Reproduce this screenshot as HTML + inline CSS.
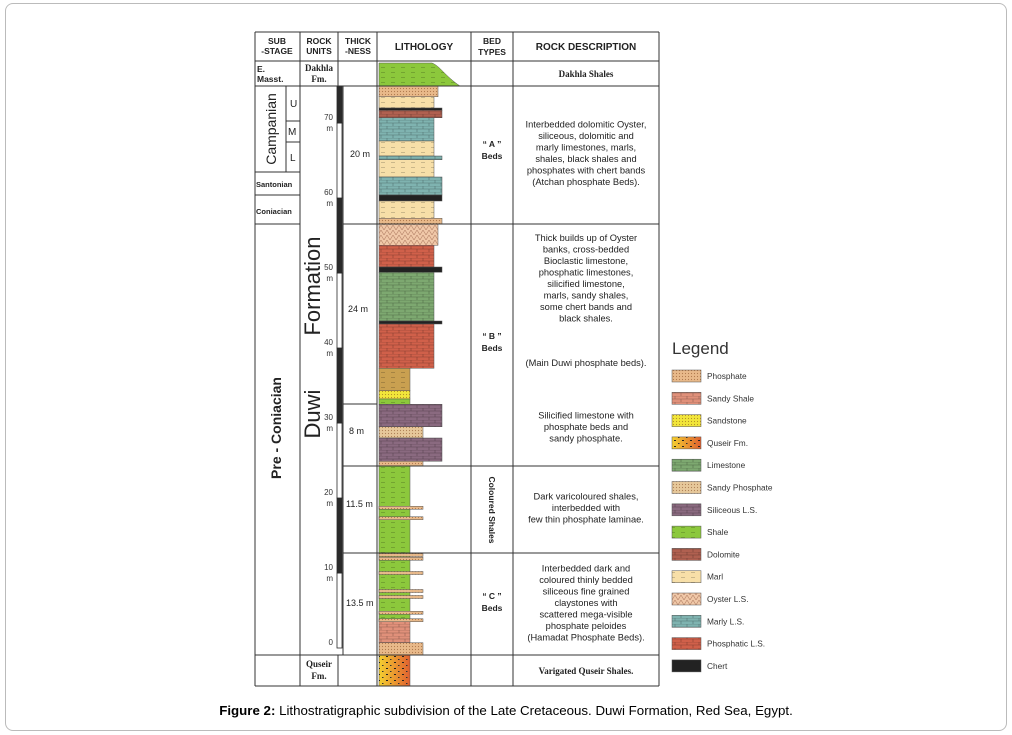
<!DOCTYPE html>
<html><head><meta charset="utf-8"><style>
body{margin:0;width:1012px;height:735px;background:#fff;overflow:hidden;font-family:"Liberation Sans",sans-serif}
#frame{position:absolute;left:5px;top:3px;width:1000px;height:726px;border:1px solid #bbb;border-radius:8px}
#cap{position:absolute;left:0;width:1012px;top:703px;text-align:center;font-size:13.3px;color:#000}
</style></head><body>
<div id="frame"></div>
<svg id="svg" width="1012" height="735" style="position:absolute;left:0;top:0">
<defs>
<pattern id="p-brick" width="12" height="6" patternUnits="userSpaceOnUse"><path d="M0 0H12M0 3H12M3 0V3M9 3V6" stroke="rgba(0,0,0,0.35)" stroke-width="0.6"/></pattern>
<pattern id="p-dash" width="10" height="5" patternUnits="userSpaceOnUse"><path d="M1 2.5H5" stroke="rgba(0,0,0,0.3)" stroke-width="0.6"/></pattern>
<pattern id="p-dot" width="3" height="3" patternUnits="userSpaceOnUse"><circle cx="1.5" cy="1.5" r="0.6" fill="rgba(120,60,20,0.5)"/></pattern>
<pattern id="p-oys" width="6" height="5" patternUnits="userSpaceOnUse"><path d="M0 5L3 0L6 5" fill="none" stroke="rgba(120,60,40,0.5)" stroke-width="0.6"/></pattern>
<pattern id="p-qus" width="8" height="6" patternUnits="userSpaceOnUse"><rect x="2" y="2" width="2" height="1" fill="#222"/><rect x="6" y="5" width="1.5" height="1" fill="#333"/></pattern>
<linearGradient id="g-qus" x1="0" x2="1"><stop offset="0" stop-color="#f4d030"/><stop offset="1" stop-color="#e06030"/></linearGradient>
</defs>
</svg>
<div id="cap"><b>Figure 2:</b> Lithostratigraphic subdivision of the Late Cretaceous. Duwi Formation, Red Sea, Egypt.</div>
<script>
// ---- data (depth in metres; width level = relative weathering profile) ----
const bedTop =    [74.9,73.5,72.0,71.7,70.7,67.6,65.6,65.1,62.8,60.4,59.6,57.3,56.5,53.7,50.8,50.1,43.6,43.2,37.3,34.3,33.2,32.5,29.5,28.0,24.9,24.3,3.6,0.7,-0.9];
const bedBottom = [73.5,72.0,71.7,70.7,67.6,65.6,65.1,62.8,60.4,59.6,57.3,56.5,53.7,50.8,50.1,43.6,43.2,37.3,34.3,33.2,32.5,29.5,28.0,24.9,24.3,3.6,0.7,-0.9,-5.1];
const bedType = ['phosphate','marl','chert','dolomite','marlyls','marl','marlyls','marl','marlyls','chert','marl','phosphate','oyster','phosls','chert','limestone','chert','phosls','brownshale','sandstone','shale','siliceous','sandyphos','siliceous','phosphate','shale','sandyshale','phosphate','quseir'];
const bedWidth = [4,3,5,5,3,3,5,3,5,5,3,5,4,3,5,3,5,3,1,1,1,5,2,5,2,1,1,2,1];
const laminae = [18.7,17.3,12.4,11.9,10.0,7.6,6.8,4.7,3.7];
const depthTicks = [0,10,20,30,40,50,60,70];
const legendNames = ['Phosphate','Sandy Shale','Sandstone','Quseir Fm.','Limestone','Sandy Phosphate','Siliceous L.S.','Shale','Dolomite','Marl','Oyster L.S.','Marly L.S.','Phosphatic L.S.','Chert'];
const legendTypes = ['phosphate','sandyshale','sandstone','quseir','limestone','sandyphos','siliceous','shale','dolomite','marl','oyster','marlyls','phosls','chert'];

const styles={phosphate:['#e8b98a','p-dot'],sandyshale:['#e0907a','p-brick'],sandstone:['#f2e63a','p-dot'],quseir:['url(#g-qus)','p-qus'],limestone:['#7da870','p-brick'],sandyphos:['#e6c89a','p-dot'],siliceous:['#8a6a80','p-brick'],shale:['#8cc83c','p-dash'],dolomite:['#b06050','p-brick'],marl:['#f7dfa8','p-dash'],oyster:['#f0c8a8','p-oys'],marlyls:['#7fb3b0','p-brick'],phosls:['#d0604a','p-brick'],chert:['#222',null],brownshale:['#c9a050','p-dash']};
const svg=document.getElementById('svg');const NS='http://www.w3.org/2000/svg';
const yOf=m=>648-m*7.5;
const xL=379, widthPx=[0,31,44,55,59,63];
const xR=l=>xL+widthPx[l];
function el(t,a,p){const e=document.createElementNS(NS,t);for(const k in a)e.setAttribute(k,a[k]);(p||svg).appendChild(e);return e;}
function fillRect(x,y,w,h,type,name){
  const g=el('g',{});
  
  
  const s=styles[type];
  el('rect',{x,y,width:w,height:h,fill:s[0],stroke:'#555','stroke-width':0.5},g);
  if(s[1])el('rect',{x,y,width:w,height:h,fill:'url(#'+s[1]+')'},g);
}
// Dakhla shale cap
const dk=el('path',{d:'M379 86 V63 H432 C440 66 445 76 460 86 Z',fill:'#8cc83c',stroke:'#555','stroke-width':0.5});

el('path',{d:'M379 86 V63 H432 C440 66 445 76 460 86 Z',fill:'url(#p-dash)'});
// beds
for(let i=0;i<bedTop.length;i++){
  const y1=yOf(bedTop[i]),y2=yOf(bedBottom[i]);
  fillRect(xL,y1,xR(bedWidth[i])-xL,y2-y1,bedType[i],'bed-'+bedType[i]);
}
for(let i=0;i<laminae.length;i++){
  fillRect(xL,yOf(laminae[i])-1.5,xR(2)-xL,3,'phosphate','phosphate-lamina');
}
// depth scale bar
for(let i=0;i<depthTicks.length;i++){
  const y1=yOf(depthTicks[i]), y2 = i<depthTicks.length-1?yOf(depthTicks[i+1]):86;
  const r=el('rect',{x:337,y:y2,width:5,height:y1-y2,fill:i%2?'#2a2a2a':'#fff',stroke:'#2a2a2a','stroke-width':0.8});
  
  const t=el('text',{x:333,y:y1-3,'font-size':8,'text-anchor':'end',fill:'#333'});t.textContent=depthTicks[i];
  
  if(depthTicks[i]>0){const u=el('text',{x:333,y:y1+8,'font-size':8,'text-anchor':'end',fill:'#333'});u.textContent='m';}
}
// grid lines
const L=(x1,y1,x2,y2,w)=>el('line',{x1,y1,x2,y2,stroke:'#333','stroke-width':w||1});
[[255,32,659,32],[255,61,659,61],[255,86,659,86],[255,655,659,655],[255,686,659,686],
 [255,32,255,686],[300,32,300,686],[338,32,338,86],[338,655,338,686],[377,32,377,686],[471,32,471,686],[513,32,513,686],[659,32,659,686],
 [255,224,300,224],[255,172,300,172],[255,195,300,195],[286,86,286,172],[286,121,300,121],[286,142,300,142],
 [343,86,343,655],[343,224,659,224],[343,404,377,404],[343,466,659,466],[343,553,659,553]].forEach(a=>L(...a));
// text helper
function T(x,y,s,txt,o={}){const t=el('text',Object.assign({x,y,'font-size':s,fill:'#222'},o));t.textContent=txt;return t;}
const hb={'font-weight':'bold','text-anchor':'middle','font-size':8.5};
T(277,44,8.5,'SUB',hb);T(277,54,8.5,'-STAGE',hb);
T(319,44,8.5,'ROCK',hb);T(319,54,8.5,'UNITS',hb);
T(358,44,8.5,'THICK',hb);T(358,54,8.5,'-NESS',hb);
T(424,50,10,'LITHOLOGY',Object.assign({},hb,{'font-size':10}));
T(492,44,8.5,'BED',hb);T(492,55,8.5,'TYPES',hb);
T(586,50,10,'ROCK DESCRIPTION',Object.assign({},hb,{'font-size':10}));
T(257,72,8.5,'E.',{'font-weight':'bold'});T(257,82,8.5,'Masst.',{'font-weight':'bold'});
const sf={'font-family':'"Liberation Serif",serif','font-weight':'bold','text-anchor':'middle','font-size':9};
T(319,71,9,'Dakhla',sf);T(319,82,9,'Fm.',sf);T(319,667,9,'Quseir',sf);T(319,679,9,'Fm.',sf);
T(586,77,9,'Dakhla Shales',sf);T(586,674,9.5,'Varigated Quseir Shales.',sf);
T(290,107,10,'U');T(288,135,10,'M');T(290,161,10,'L');
T(256,187,7.5,'Santonian',{'font-weight':'bold'});T(256,214,7.5,'Coniacian',{'font-weight':'bold'});
T(0,0,14,'Campanian',{transform:'translate(276,129) rotate(-90)','text-anchor':'middle'});
T(0,0,14,'Pre - Coniacian',{transform:'translate(281,428) rotate(-90)','text-anchor':'middle','font-weight':'bold'});
T(0,0,22,'Formation',{transform:'translate(320,286) rotate(-90)','text-anchor':'middle'});
T(0,0,22,'Duwi',{transform:'translate(320,414) rotate(-90)','text-anchor':'middle'});
T(0,0,8.5,'Coloured Shales',{transform:'translate(489,510) rotate(90)','text-anchor':'middle','font-weight':'bold'});
T(350,157,9,'20 m');T(348,312,9,'24 m');T(349,434,9,'8 m');T(346,507,9,'11.5 m');T(346,606,9,'13.5 m');
const bt={'font-weight':'bold','text-anchor':'middle','font-size':8.5};
T(492,147,8.5,'“ A ”',bt);T(492,159,8.5,'Beds',bt);
T(492,339,8.5,'“ B ”',bt);T(492,351,8.5,'Beds',bt);
T(492,599,8.5,'“ C ”',bt);T(492,611,8.5,'Beds',bt);
function para(lines,cy){const lh=11.5;const y0=cy-(lines.length-1)*lh/2+3;lines.forEach((s,i)=>T(586,y0+i*lh,9.3,s,{'text-anchor':'middle'}));}
para(['Interbedded dolomitic Oyster,','siliceous, dolomitic and','marly limestones, marls,','shales, black shales and','phosphates with chert bands','(Atchan phosphate Beds).'],153);
para(['Thick builds up of Oyster','banks, cross-bedded','Bioclastic limestone,','phosphatic limestones,','silicified limestone,','marls, sandy shales,','some chert bands and','black shales.'],278);
para(['(Main Duwi phosphate beds).'],363);
para(['Silicified limestone with','phosphate beds and','sandy phosphate.'],427);
para(['Dark varicoloured shales,','interbedded with','few thin phosphate laminae.'],508);
para(['Interbedded dark and','coloured thinly bedded','siliceous fine grained','claystones with','scattered mega-visible','phosphate peloides','(Hamadat Phosphate Beds).'],603);
// legend
const lg=T(672,354,17,'Legend',{fill:'#333'});

for(let i=0;i<legendNames.length;i++){
  const cy=376+i*22.3;
  fillRect(672,cy-6,29,12,legendTypes[i],'legend-swatch');
  const t=T(707,cy+3,8.3,legendNames[i],{fill:'#333'});
  
}
</script>
</body></html>
